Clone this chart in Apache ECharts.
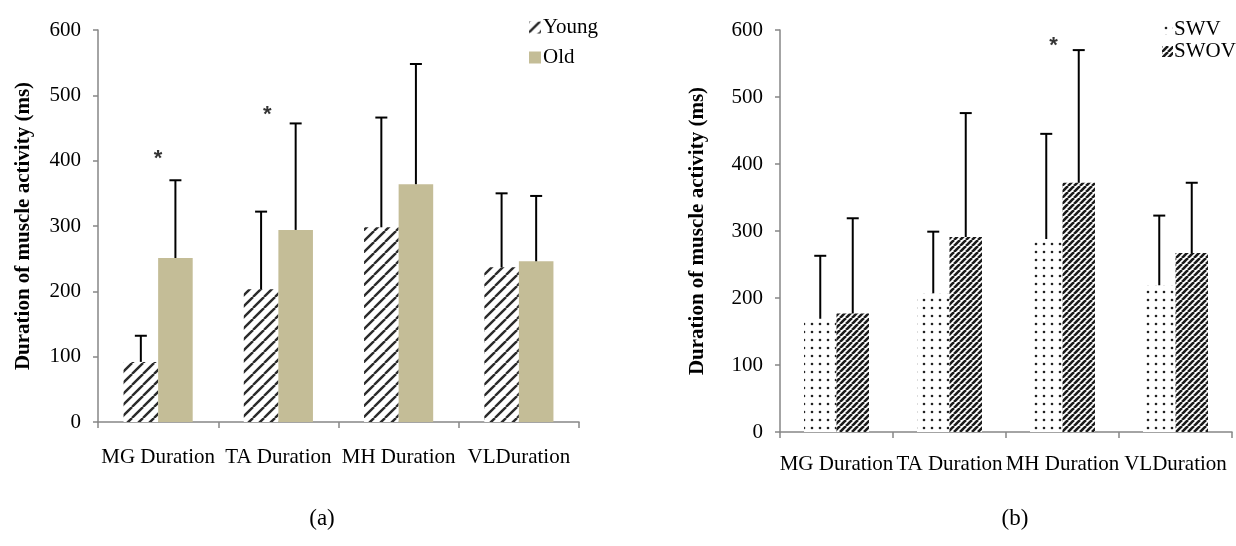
<!DOCTYPE html>
<html>
<head>
<meta charset="utf-8">
<script src="https://cdn.jsdelivr.net/npm/echarts@6/dist/echarts.min.js"></script>
<style>
html,body{margin:0;padding:0;background:#fff;}
#chart{width:1236px;height:546px;}
</style>
</head>
<body>
<div id="chart"></div>
<script>
// ---- data ----
const categories = ['MG Duration', 'TA Duration', 'MH Duration', 'VLDuration'];
const yTicks = [0, 100, 200, 300, 400, 500, 600];

const youngMean = [92, 203, 298, 237];
const youngSD   = [40, 119, 168, 113];
const oldMean   = [251, 294, 364, 246];
const oldSD     = [119, 163, 184, 100];
const starsA    = [['MG Duration', 410], ['TA Duration', 478]];

const swvMean  = [169, 207, 288, 219];
const swvSD    = [94, 92, 157, 104];
const swovMean = [177, 291, 372, 267];
const swovSD   = [142, 185, 198, 105];
const starsB   = [['MH Duration', 584]];

// ---- styles ----
const SERIF = "'Liberation Serif','Times New Roman',serif";
const AXIS_GRAY = '#868686';
const CAT_GAP = 0.425;
const FS = 21;

function stripeTile(size, lw, color) {
  const c = document.createElement('canvas');
  c.width = size; c.height = size;
  const g = c.getContext('2d');
  g.fillStyle = '#fff'; g.fillRect(0, 0, size, size);
  g.strokeStyle = color; g.lineWidth = lw;
  for (let k = -1; k <= 1; k++) {
    g.beginPath();
    g.moveTo(k * size, size);
    g.lineTo(k * size + size, 0);
    g.stroke();
  }
  return c;
}
function dotTile(size, r, color) {
  const c = document.createElement('canvas');
  c.width = size; c.height = size;
  const g = c.getContext('2d');
  g.fillStyle = '#fff'; g.fillRect(0, 0, size, size);
  g.fillStyle = color;
  g.beginPath(); g.arc(size / 2, size / 2, r, 0, Math.PI * 2); g.fill();
  return c;
}
const youngFill = { image: stripeTile(11, 2.4, '#2a2a2a'), repeat: 'repeat' };
const swovFill  = { image: stripeTile(6, 2.6, '#1a1a1a'), repeat: 'repeat' };
const swvFill   = { image: dotTile(8, 1.3, '#222'), repeat: 'repeat' };
const oldFill   = '#C4BD97';

function errRender(side) {
  return function (params, api) {
    const idx = api.value(0), m = api.value(1), sd = api.value(2);
    const p0 = api.coord([idx, m]);
    const p1 = api.coord([idx, m + sd]);
    const catW = api.size([1, 0])[0];
    const barW = catW * (1 - CAT_GAP) / 2;
    const x = p0[0] + side * barW / 2;
    const st = { stroke: '#000', lineWidth: 2 };
    return {
      type: 'group',
      children: [
        { type: 'line', shape: { x1: x, y1: p0[1], x2: x, y2: p1[1] }, style: st },
        { type: 'line', shape: { x1: x - 6, y1: p1[1], x2: x + 6, y2: p1[1] }, style: st }
      ]
    };
  };
}
function errData(mean, sd) { return mean.map((m, i) => [i, m, sd[i]]); }

function xAxisDef(grid, margin) {
  return {
    type: 'category', gridIndex: grid, data: categories,
    axisLine: { lineStyle: { color: AXIS_GRAY, width: 1.5 } },
    axisTick: { show: true, length: 6, lineStyle: { color: AXIS_GRAY, width: 1.5 } },
    axisLabel: { color: '#000', fontFamily: SERIF, fontSize: FS, margin: margin, interval: 0, hideOverlap: false },
    splitLine: { show: false }
  };
}
function yAxisDef(grid, gap) {
  return {
    type: 'value', gridIndex: grid, min: yTicks[0], max: yTicks[yTicks.length - 1], interval: 100,
    name: 'Duration of muscle activity (ms)', nameLocation: 'middle', nameGap: gap, nameRotate: 90,
    nameTextStyle: { color: '#000', fontFamily: SERIF, fontSize: FS, fontWeight: 'bold' },
    axisLine: { show: true, lineStyle: { color: AXIS_GRAY, width: 1.5 } },
    axisTick: { show: true, length: 5, lineStyle: { color: AXIS_GRAY, width: 1.5 } },
    axisLabel: { color: '#000', fontFamily: SERIF, fontSize: FS, margin: 17 },
    splitLine: { show: false }
  };
}
function starSeries(x, y, data, dx) {
  return {
    type: 'scatter', xAxisIndex: x, yAxisIndex: y, data: data, symbolSize: 1,
    itemStyle: { color: 'rgba(0,0,0,0)' }, silent: true, z: 5,
    label: { show: true, position: 'inside', formatter: '*', offset: [dx, 5],
      color: '#000', fontFamily: "'Liberation Sans',sans-serif", fontSize: 22, fontWeight: 'bold' }
  };
}

const chart = echarts.init(document.getElementById('chart'), null, { renderer: 'canvas' });
chart.setOption({
  backgroundColor: '#fff',
  animation: false,
  grid: [
    { left: 98, top: 30, width: 481, height: 392 },
    { left: 780, top: 30, width: 452, height: 402 }
  ],
  xAxis: [xAxisDef(0, 25), xAxisDef(1, 22)],
  yAxis: [yAxisDef(0, 64), yAxisDef(1, 72)],
  legend: [
    { data: ['Young', 'Old'], orient: 'vertical', left: 524, top: 12, itemGap: 9,
      itemWidth: 12, itemHeight: 12, icon: 'rect',
      textStyle: { color: '#000', fontFamily: SERIF, fontSize: FS, lineHeight: 21, padding: [0, 0, 0, -3] } },
    { data: ['SWV', 'SWOV'], orient: 'vertical', left: 1157, top: 14, itemGap: 1,
      itemWidth: 11, itemHeight: 11, icon: 'rect',
      textStyle: { color: '#000', fontFamily: SERIF, fontSize: FS, lineHeight: 21, padding: [0, 0, 0, -4] } }
  ],
  graphic: [
    { type: 'text', x: 322, y: 519, style: { text: '(a)', align: 'center', verticalAlign: 'middle', font: '23px ' + SERIF, fill: '#000' } },
    { type: 'text', x: 1015, y: 519, style: { text: '(b)', align: 'center', verticalAlign: 'middle', font: '23px ' + SERIF, fill: '#000' } }
  ],
  series: [
    { name: 'Young', type: 'bar', xAxisIndex: 0, yAxisIndex: 0, data: youngMean,
      barGap: '0%', barCategoryGap: (CAT_GAP * 100) + '%', itemStyle: { color: youngFill } },
    { name: 'Old', type: 'bar', xAxisIndex: 0, yAxisIndex: 0, data: oldMean,
      barGap: '0%', barCategoryGap: (CAT_GAP * 100) + '%', itemStyle: { color: oldFill } },
    { type: 'custom', xAxisIndex: 0, yAxisIndex: 0, renderItem: errRender(-1), data: errData(youngMean, youngSD), z: 4, silent: true },
    { type: 'custom', xAxisIndex: 0, yAxisIndex: 0, renderItem: errRender(1), data: errData(oldMean, oldSD), z: 4, silent: true },
    starSeries(0, 0, starsA.slice(0, 1), 0),
    starSeries(0, 0, starsA.slice(1), -11),

    { name: 'SWV', type: 'bar', xAxisIndex: 1, yAxisIndex: 1, data: swvMean,
      barGap: '0%', barCategoryGap: (CAT_GAP * 100) + '%', itemStyle: { color: swvFill } },
    { name: 'SWOV', type: 'bar', xAxisIndex: 1, yAxisIndex: 1, data: swovMean,
      barGap: '0%', barCategoryGap: (CAT_GAP * 100) + '%', itemStyle: { color: swovFill } },
    { type: 'custom', xAxisIndex: 1, yAxisIndex: 1, renderItem: errRender(-1), data: errData(swvMean, swvSD), z: 4, silent: true },
    { type: 'custom', xAxisIndex: 1, yAxisIndex: 1, renderItem: errRender(1), data: errData(swovMean, swovSD), z: 4, silent: true },
    starSeries(1, 1, starsB, -9)
  ]
});
</script>
</body>
</html>
